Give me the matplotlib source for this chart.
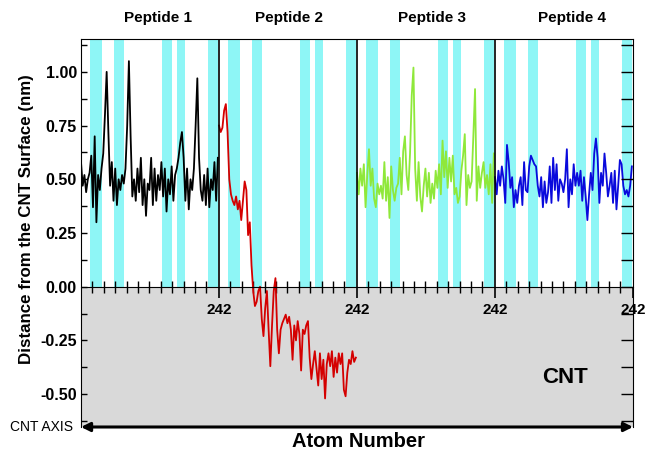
import matplotlib
import numpy as np
from matplotlib.transforms import blended_transform_factory

matplotlib.use("Agg")
import matplotlib.pyplot as plt

PANEL_LENGTH = 242
SAMPLE_STEP = 3

peptide_names = ["Peptide 1", "Peptide 2", "Peptide 3", "Peptide 4"]
peptide_colors = ["#000000", "#d40000", "#8fe83a", "#0a0adc"]

# distance (nm) sampled every 3 atoms, atoms 0..240 of each peptide
peptide1_distance = [
    0.58, 0.47, 0.52, 0.44, 0.50, 0.53, 0.61, 0.37, 0.70, 0.30, 0.52, 0.45, 0.55, 0.62, 0.80, 1.00,
    0.72, 0.47, 0.58, 0.40, 0.55, 0.38, 0.50, 0.45, 0.52, 0.48, 0.55, 0.75, 1.05, 0.70, 0.42, 0.50,
    0.40, 0.55, 0.44, 0.60, 0.38, 0.50, 0.33, 0.48, 0.45, 0.60, 0.38, 0.55, 0.40, 0.52, 0.45, 0.58,
    0.42, 0.55, 0.35, 0.50, 0.43, 0.56, 0.40, 0.52, 0.55, 0.60, 0.67, 0.72, 0.60, 0.40, 0.55, 0.36,
    0.50, 0.45, 0.55, 0.75, 0.97, 0.60, 0.45, 0.40, 0.52, 0.38, 0.55, 0.37, 0.50, 0.45, 0.58, 0.40,
    0.60,
]
peptide2_distance = [
    0.75, 0.72, 0.74, 0.82, 0.85, 0.72, 0.50, 0.43, 0.40, 0.38, 0.42, 0.36, 0.40, 0.31, 0.40, 0.49,
    0.45, 0.24, 0.30, 0.10, -0.02, -0.09, -0.07, -0.02, 0.00, -0.15, -0.23, -0.10, -0.02, -0.20, -0.37, -0.18,
    -0.02, 0.04, -0.20, -0.31, -0.20, -0.17, -0.15, -0.13, -0.17, -0.14, -0.20, -0.34, -0.18, -0.25, -0.16, -0.22,
    -0.39, -0.20, -0.22, -0.18, -0.16, -0.33, -0.43, -0.36, -0.30, -0.38, -0.46, -0.31, -0.43, -0.34, -0.52, -0.36,
    -0.31, -0.37, -0.30, -0.42, -0.33, -0.40, -0.31, -0.36, -0.31, -0.48, -0.51, -0.40, -0.34, -0.36, -0.30, -0.35,
    -0.33,
]
peptide3_distance = [
    0.53, 0.43, 0.55, 0.47, 0.57, 0.37, 0.52, 0.64, 0.47, 0.55, 0.41, 0.37, 0.48, 0.43, 0.47, 0.41,
    0.58, 0.40, 0.51, 0.32, 0.56, 0.45, 0.40, 0.46, 0.48, 0.60, 0.43, 0.63, 0.70, 0.52, 0.45, 0.62,
    0.89, 1.02, 0.55, 0.40, 0.58, 0.42, 0.35, 0.47, 0.55, 0.42, 0.53, 0.39, 0.48, 0.41, 0.54, 0.46,
    0.57, 0.43, 0.68, 0.51, 0.63, 0.46, 0.60, 0.49, 0.61, 0.43, 0.46, 0.39, 0.42, 0.54, 0.61, 0.71,
    0.38, 0.52, 0.46, 0.49, 0.70, 0.92, 0.40, 0.56, 0.46, 0.53, 0.58, 0.46, 0.52, 0.43, 0.57, 0.39,
    0.62,
]
peptide4_distance = [
    0.51, 0.43, 0.54, 0.47, 0.56, 0.50, 0.39, 0.66, 0.58, 0.46, 0.51, 0.37, 0.45, 0.39, 0.47, 0.51,
    0.38, 0.58, 0.45, 0.44, 0.56, 0.61, 0.59, 0.57, 0.56, 0.47, 0.42, 0.51, 0.37, 0.49, 0.39, 0.44,
    0.56, 0.39, 0.60, 0.45, 0.57, 0.40, 0.50, 0.48, 0.44, 0.50, 0.64, 0.37, 0.50, 0.43, 0.57, 0.47,
    0.53, 0.47, 0.54, 0.40, 0.51, 0.42, 0.31, 0.43, 0.53, 0.45, 0.62, 0.69, 0.60, 0.39, 0.53, 0.47,
    0.62, 0.53, 0.42, 0.47, 0.53, 0.39, 0.54, 0.36, 0.47, 0.59, 0.57, 0.47, 0.43, 0.45, 0.42, 0.47,
    0.56,
]
peptide_distances = [peptide1_distance, peptide2_distance, peptide3_distance, peptide4_distance]

# atom ranges (within each peptide) highlighted in cyan
band_starts = [15, 58, 142, 168, 222]
band_ends = [36, 75, 159, 182, 241]

y_major_ticks = [-0.50, -0.25, 0.00, 0.25, 0.50, 0.75, 1.00]
x_minor_ticks = [20, 40, 60, 80, 100, 120, 140, 160, 180, 200, 220]

Y_MIN, Y_MAX = -0.653, 1.153
BAND_COLOR = "#8ef6f6"
CNT_COLOR = "#d9d9d9"

plt.rcParams["font.family"] = ["Liberation Sans", "DejaVu Sans"]

figure = plt.figure(figsize=(6.47, 4.51), dpi=100)
axis = figure.add_axes([81 / 647, 24 / 451, 552 / 647, 388 / 451])
x_max = PANEL_LENGTH * len(peptide_names)
axis.set_xlim(0, x_max)
axis.set_ylim(Y_MIN, Y_MAX)

# CNT region and residue bands
axis.axhspan(Y_MIN, 0, color=CNT_COLOR, zorder=0, linewidth=0)
zero_fraction = (0 - Y_MIN) / (Y_MAX - Y_MIN)
for panel in range(len(peptide_names)):
    offset = panel * PANEL_LENGTH
    for start, end in zip(band_starts, band_ends):
        axis.axvspan(offset + start, offset + end, ymin=zero_fraction, ymax=1,
                     color=BAND_COLOR, linewidth=0, zorder=1)

for panel, (values, color) in enumerate(zip(peptide_distances, peptide_colors)):
    atoms = panel * PANEL_LENGTH + np.arange(len(values)) * SAMPLE_STEP
    axis.plot(atoms, values, color=color, linewidth=1.3, zorder=3)

for panel in range(1, len(peptide_names)):
    axis.plot([panel * PANEL_LENGTH] * 2, [0, Y_MAX], color="black", linewidth=1.2, zorder=4)

# x axis sits on the CNT surface
axis.spines["bottom"].set_position(("data", 0))
axis.spines["bottom"].set_zorder(5)
major_x = [PANEL_LENGTH * (panel + 1) for panel in range(len(peptide_names))]
minor_x = [PANEL_LENGTH * panel + tick for panel in range(len(peptide_names)) for tick in x_minor_ticks]
axis.set_xticks(major_x)
axis.set_xticklabels([str(PANEL_LENGTH)] * len(major_x))
axis.set_xticks(minor_x, minor=True)
axis.tick_params(axis="x", which="major", direction="out", length=8, width=1.2,
                 labelsize=11, pad=4)
axis.tick_params(axis="x", which="minor", direction="inout", length=8, width=1)
for label in axis.get_xticklabels():
    label.set_fontweight("bold")

axis.set_yticks(y_major_ticks)
axis.set_yticklabels([f"{tick:.2f}" for tick in y_major_ticks])
y_minor = [tick for tick in np.arange(-0.625, 1.15, 0.125) if tick not in y_major_ticks]
axis.set_yticks(y_minor, minor=True)
axis.tick_params(axis="y", which="both", direction="in", length=4.3, width=1,
                 labelsize=11.5, pad=3)
for label in axis.get_yticklabels():
    label.set_fontweight("bold")

right_axis = axis.twinx()
right_axis.set_ylim(Y_MIN, Y_MAX)
right_axis.set_yticks(y_major_ticks)
right_axis.set_yticks(y_minor, minor=True)
right_axis.tick_params(axis="y", which="both", direction="in", length=8.4, width=1, labelright=False)
for side in right_axis.spines.values():
    side.set_visible(False)

# panel titles
title_transform = blended_transform_factory(axis.transData, axis.transAxes)
title_positions = [135, 365, 616, 861]
for name, position in zip(peptide_names, title_positions):
    axis.text(position, 1.055, name, transform=title_transform, ha="center", va="center",
              fontsize=11, fontweight="bold")

axis.text(849, -0.45, "CNT", ha="center", va="baseline", fontsize=16, fontweight="bold")

axis.annotate("", xy=(0, 0), xytext=(x_max, 0), xycoords=title_transform,
              textcoords=title_transform,
              arrowprops=dict(arrowstyle="<|-|>", color="black", lw=2.2, mutation_scale=13,
                              shrinkA=0, shrinkB=0),
              annotation_clip=False)

figure.text(27 / 647, 1 - 219 / 451, "Distance from the CNT Surface (nm)", rotation=90,
            ha="center", va="center", fontsize=12.2, fontweight="bold")
figure.text(41.5 / 647, 1 - 427 / 451, "CNT AXIS", ha="center", va="center", fontsize=10)
figure.text(358 / 647, 4 / 451, "Atom Number", ha="center", va="baseline", fontsize=14.5,
            fontweight="bold")

figure.savefig("out.png", dpi=100)
plt.close(figure)
